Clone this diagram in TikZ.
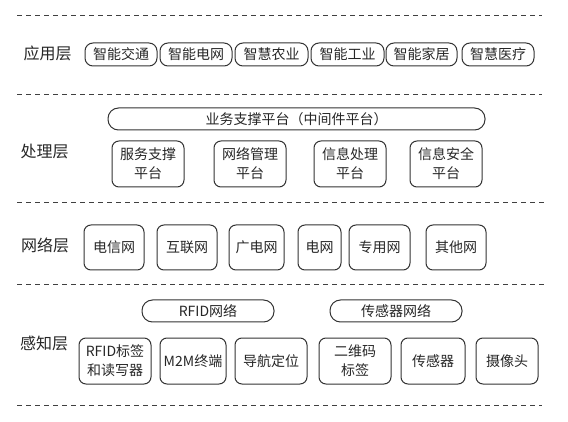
\documentclass[tikz,border=0pt]{standalone}
\usepackage{fontspec}
\setmainfont{Noto Sans CJK SC}
\begin{document}
\begin{tikzpicture}[x=1pt,y=-1pt,
  sep/.style={draw=black!75,line width=1pt,dash pattern=on 5pt off 4pt},
  layer/.style={font=\fontsize{16}{18}\selectfont,text=black!85,inner sep=0pt},
  item/.style={draw=black!80,line width=1pt,rounded corners=7pt,
    font=\fontsize{14}{19}\selectfont,text=black!85,align=center,
    inner sep=0pt,minimum height=#1},
  item/.default=46pt,
  pill/.style={draw=black!80,line width=1pt,rounded corners=10.5pt,
    font=\fontsize{14}{18}\selectfont,text=black!85,inner sep=0pt,
    minimum height=22pt}]
\useasboundingbox (0,0) rectangle (568,422);

% layer separators
\coordinate (s1a) at (17,16);  \coordinate (s1b) at (542,16);
\coordinate (s2a) at (17,95);  \coordinate (s2b) at (542,95);
\coordinate (s3a) at (17,203); \coordinate (s3b) at (545,203);
\coordinate (s4a) at (17,285); \coordinate (s4b) at (545,285);
\coordinate (s5a) at (17,405); \coordinate (s5b) at (542,405);
\draw[sep] (s1a) -- (s1b);
\draw[sep] (s2a) -- (s2b);
\draw[sep] (s3a) -- (s3b);
\draw[sep] (s4a) -- (s4b);
\draw[sep] (s5a) -- (s5b);

% application layer
\node[layer] (app) at (47.5,53) {应用层};
\node[item=23pt,rounded corners=8pt,minimum width=72pt] (a1) at (121,54.5) {智能交通};
\node[item=23pt,rounded corners=8pt,minimum width=72pt] (a2) at (196,54.5) {智能电网};
\node[item=23pt,rounded corners=8pt,minimum width=73pt] (a3) at (271.5,54.5) {智慧农业};
\node[item=23pt,rounded corners=8pt,minimum width=73pt] (a4) at (347.5,54.5) {智能工业};
\node[item=23pt,rounded corners=8pt,minimum width=71pt] (a5) at (421.5,54.5) {智能家居};
\node[item=23pt,rounded corners=8pt,minimum width=72pt] (a6) at (498,54.5) {智慧医疗};

% processing layer
\node[layer] (proc) at (44.5,152) {处理层};
\node[pill,minimum width=377pt] (mid) at (296.5,119) {业务支撑平台（中间件平台）};
\node[item,minimum width=72pt] (p1) at (148,164) {服务支撑\\平台};
\node[item,minimum width=72pt] (p2) at (250,164) {网络管理\\平台};
\node[item,minimum width=72pt] (p3) at (350,164) {信息处理\\平台};
\node[item,minimum width=72pt] (p4) at (446,164) {信息安全\\平台};

% network layer
\node[layer] (net) at (45,245) {网络层};
\node[item=45pt,minimum width=60pt] (n1) at (114,247.5) {电信网};
\node[item=45pt,minimum width=60pt] (n2) at (187,247.5) {互联网};
\node[item=45pt,minimum width=55pt] (n3) at (256.5,247.5) {广电网};
\node[item=45pt,minimum width=43pt] (n4) at (319.5,247.5) {电网};
\node[item=45pt,minimum width=61pt] (n5) at (379.5,247.5) {专用网};
\node[item=45pt,minimum width=60pt] (n6) at (456,247.5) {其他网};

% perception layer
\node[layer] (sense) at (44,343) {感知层};
\node[pill,minimum width=132pt] (rfidnet) at (208,311) {RFID网络};
\node[pill,minimum width=132pt] (sensnet) at (396,311) {传感器网络};
\node[item,minimum width=72pt] (r1) at (115,361) {RFID标签\\和读写器};
\node[item,minimum width=66pt] (r2) at (193,361) {M2M终端};
\node[item,minimum width=72pt] (r3) at (271,361) {导航定位};
\node[item,minimum width=72pt] (r4) at (355,361) {二维码\\标签};
\node[item,minimum width=64pt] (r5) at (433,361) {传感器};
\node[item,minimum width=62pt] (r6) at (507,361) {摄像头};
\end{tikzpicture}
\end{document}
